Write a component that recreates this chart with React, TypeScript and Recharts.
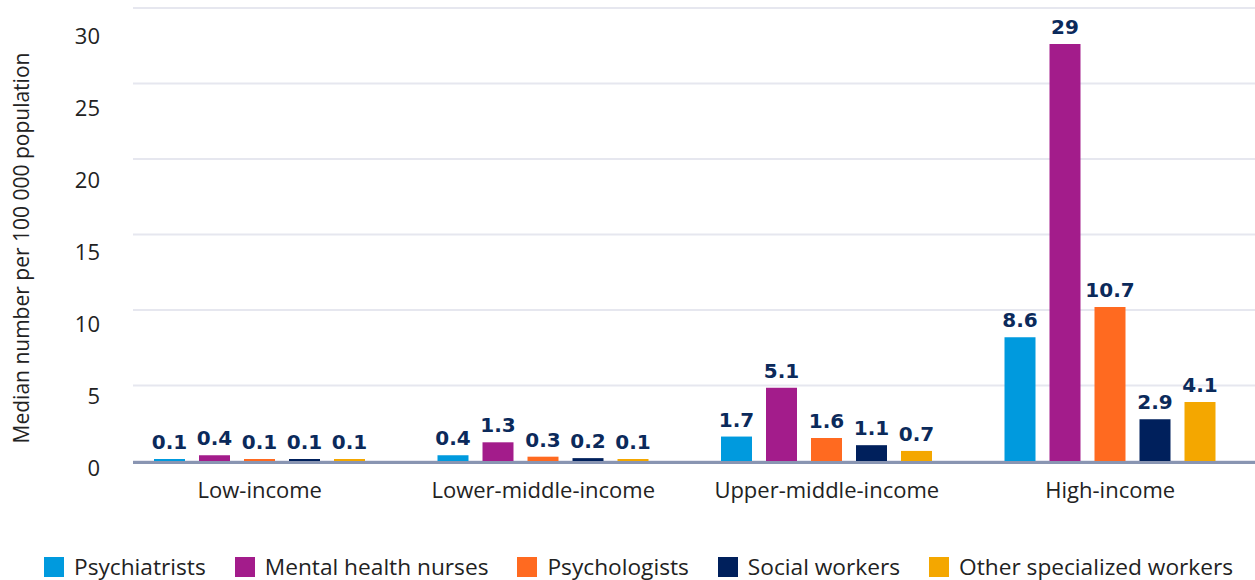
import { Bar, BarChart, CartesianGrid, Label, LabelList, XAxis, YAxis } from "recharts";

const incomeGroups = ["Low-income", "Lower-middle-income", "Upper-middle-income", "High-income"];
const psychiatrists = [0.1, 0.4, 1.7, 8.6];
const mentalHealthNurses = [0.4, 1.3, 5.1, 29];
const psychologists = [0.1, 0.3, 1.6, 10.7];
const socialWorkers = [0.1, 0.2, 1.1, 2.9];
const otherWorkers = [0.1, 0.1, 0.7, 4.1];
const yTicks = [0, 5, 10, 15, 20, 25, 30];
// the source draws its grid in six equal bands, not on the value ticks
const gridBands = 6;

const series = [
  { key: "psychiatrists", name: "Psychiatrists", color: "#009ADE", values: psychiatrists },
  { key: "nurses", name: "Mental health nurses", color: "#A31C8B", values: mentalHealthNurses },
  { key: "psychologists", name: "Psychologists", color: "#FF6A20", values: psychologists },
  { key: "social", name: "Social workers", color: "#00205C", values: socialWorkers },
  { key: "other", name: "Other specialized workers", color: "#F4A700", values: otherWorkers },
];

const data = incomeGroups.map((group, i) => {
  const row: Record<string, string | number> = { group };
  series.forEach((s) => {
    row[s.key] = s.values[i];
  });
  return row;
});

const FONT = "'Open Sans', 'Noto Sans', sans-serif";
const TEXT = "#222222";
const LABEL = "#0B2A5B";

const gridRows = ({ offset }: any) =>
  Array.from({ length: gridBands + 1 }, (_, i) => offset.top + (offset.height * i) / gridBands);

export default function App() {
  return (
    <div style={{ position: "absolute", left: 0, top: 0, width: 1255, height: 580, background: "#fff" }}>
      <BarChart
        width={1255}
        height={580}
        data={data}
        margin={{ top: 8, right: 0, bottom: 79, left: 0 }}
        barSize={31}
        barGap={14}
      >
        <CartesianGrid
          yAxisId="v"
          vertical={false}
          horizontalCoordinatesGenerator={gridRows}
          stroke="#E6E7EF"
          strokeWidth={2}
        />
        <XAxis
          dataKey="group"
          tick={{ fontFamily: FONT, fontSize: 22, fill: TEXT }}
          tickLine={false}
          tickMargin={15}
          height={40}
          axisLine={{ stroke: "#8995B2", strokeWidth: 3, transform: "translate(0, 1.5)" }}
          padding={{ left: -15, right: 3 }}
        />
        <YAxis
          yAxisId="v"
          domain={[0, 31.5]}
          ticks={yTicks}
          allowDataOverflow
          width={133}
          tick={{ fontFamily: FONT, fontSize: 22, fill: TEXT, dy: 7 }}
          tickLine={false}
          tickMargin={27}
          axisLine={false}
        >
          <Label
            content={() => (
              <text
                transform="translate(21, 248) rotate(-90)"
                textAnchor="middle"
                dominantBaseline="central"
                fontFamily={FONT}
                fontSize={21}
                fill={TEXT}
              >
                Median number per 100 000 population
              </text>
            )}
          />
        </YAxis>
        {series.map((s) => (
          <Bar
            key={s.key}
            yAxisId="v"
            dataKey={s.key}
            name={s.name}
            fill={s.color}
            minPointSize={2}
            isAnimationActive={false}
          >
            <LabelList
              dataKey={s.key}
              position="top"
              offset={10}
              fill={LABEL}
              fontFamily="'DejaVu Sans', sans-serif"
              fontWeight="bold"
              fontSize={20}
            />
          </Bar>
        ))}
      </BarChart>
      <div
        style={{
          position: "absolute",
          left: 44,
          top: 556,
          display: "flex",
          alignItems: "center",
          gap: 29,
          fontFamily: FONT,
          fontSize: 22.7,
          color: TEXT,
          whiteSpace: "nowrap",
        }}
      >
        {series.map((s) => (
          <div key={s.key} style={{ display: "flex", alignItems: "center", gap: 10 }}>
            <span style={{ width: 20, height: 20, background: s.color, display: "inline-block" }} />
            <span style={{ lineHeight: "22px" }}>{s.name}</span>
          </div>
        ))}
      </div>
    </div>
  );
}
